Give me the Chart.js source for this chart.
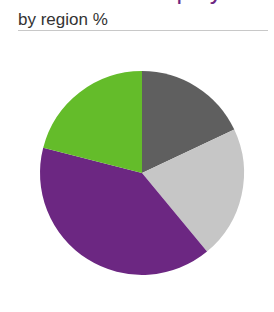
<!DOCTYPE html>
<html>
<head>
<meta charset="utf-8">
<script src="https://cdn.jsdelivr.net/npm/chart.js@4/dist/chart.umd.min.js"></script>
<style>
  html, body { margin: 0; padding: 0; background: #fff; overflow: hidden; }
  body { width: 274px; height: 312px; position: relative; }
  #title { position: absolute; left: 18px; top: -22px; font: 25px "Liberation Sans", Arial, sans-serif; line-height: 25px; color: #6c2782; white-space: nowrap; }
  #subtitle { position: absolute; left: 18px; top: 10.6px; font: 17px "Liberation Sans", Arial, sans-serif; line-height: 17px; color: #333; white-space: nowrap; }
  #rule { position: absolute; left: 18px; top: 30px; width: 250px; height: 1px; background: #c8c8c8; }
  #wrap { position: absolute; left: 0; top: 0; width: 274px; height: 312px; }
</style>
</head>
<body>
<div id="title">Number of employees</div>
<div id="subtitle">by region %</div>
<div id="rule"></div>
<div id="wrap"><canvas id="c"></canvas></div>
<script>
const regions = ["Region A", "Region B", "Region C", "Region D"];
const shares = [18, 21, 40, 21];
const colors = ["#5f5f5f", "#c6c6c6", "#6c2782", "#64bc2a"];

new Chart(document.getElementById("c"), {
  type: "pie",
  data: {
    labels: regions,
    datasets: [{ data: shares, backgroundColor: colors, borderWidth: 0 }]
  },
  options: {
    responsive: true,
    maintainAspectRatio: false,
    animation: false,
    layout: { padding: { top: 71, bottom: 37, left: 40, right: 30 } },
    plugins: { legend: { display: false }, tooltip: { enabled: false } }
  }
});
</script>
</body>
</html>
